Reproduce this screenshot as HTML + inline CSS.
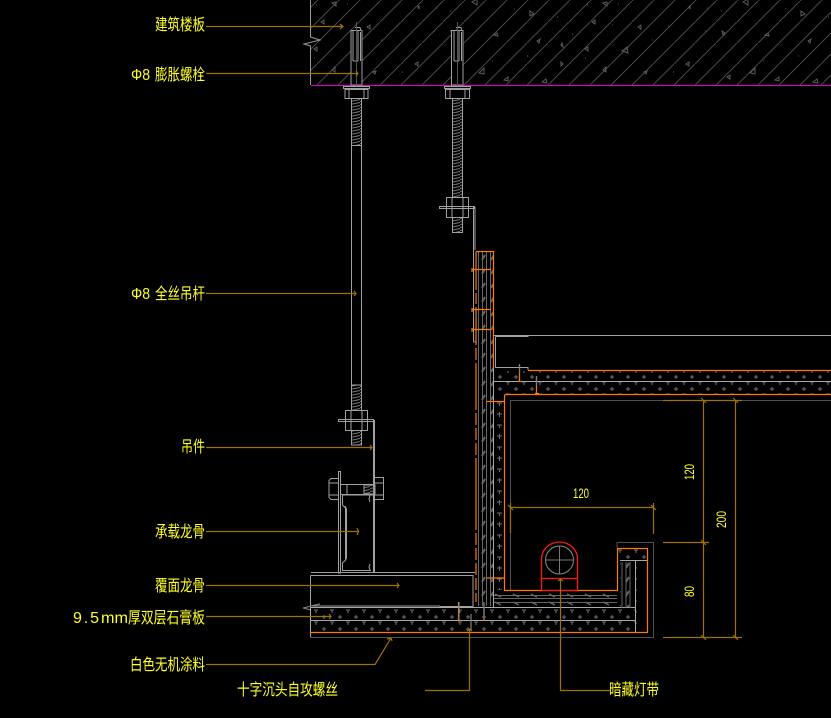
<!DOCTYPE html>
<html><head><meta charset="utf-8"><style>
html,body{margin:0;padding:0;background:#000;width:831px;height:718px;overflow:hidden}
svg{display:block}
text{font-family:"Liberation Sans","WenQuanYi Zen Hei","Noto Sans CJK SC",sans-serif;fill:#ffff2a;font-size:16px}
</style></head><body>
<svg width="831" height="718" viewBox="0 0 831 718" xmlns="http://www.w3.org/2000/svg">
<defs>
<pattern id="hatch" width="21" height="21" patternUnits="userSpaceOnUse" patternTransform="translate(2 1)">
<path d="M-1 22L22 -1" stroke="#484848" stroke-width="1" fill="none"/>
</pattern>
<pattern id="tri" width="271" height="85" patternUnits="userSpaceOnUse" patternTransform="translate(560 0)">
<path d="M43 3l4 -1v4zM35 20l-3 2 3 2zM78 27l3 -2v4zM28 47l-3 2 3 2zM62 51l5 -4 1 6zM43 70l3 -3v5zM84 72l3 -1-1 3zM126 64l3 -2v4zM129 7l1 -1v3zM183 2l5 -3v6zM165 33l-3 -2 1 4zM190 73l5 -5v6zM205 35l3 -2 1 3zM245 14l-4 -3v5zM170 75l-3 2 3 2zM215 80l4 -3v4zM248 41l3 -2-1 4zM253 82l4 -3 1 4zM2 43l-1 2 2 2zM1 62l2 2-2 2z" stroke="#5c5c5c" fill="none"/>
<path d="M27 5h1M58 4h1M12 34h1M52 25h1M92 40h1M108 26h1M145 31h1M161 11h1M147 8h1M225 9h1M203 61h1M238 56h1M268 17h1M25 58h1M113 72h1" stroke="#555"/>
</pattern>
<pattern id="b1" width="16" height="12" patternUnits="userSpaceOnUse" patternTransform="translate(311 608)">
<path d="M3 2h4M5 2v3M11 9h4M13 7v4" stroke="#707070" fill="none"/>
</pattern>
<pattern id="b2" width="15" height="22" patternUnits="userSpaceOnUse" patternTransform="translate(493 400)">
<path d="M4 3h5M6.500 3v3M4 14h5M6.500 12v5" stroke="#707070" fill="none"/>
</pattern>
<pattern id="th" width="10" height="3" patternUnits="userSpaceOnUse">
<path d="M0 2.500L10 0.500" stroke="#777" stroke-width="1"/>
</pattern>
<pattern id="vb" width="9" height="14" patternUnits="userSpaceOnUse" patternTransform="translate(478 250)">
<path d="M4 10l3 -5" stroke="#666" stroke-width="2"/>
</pattern>
<pattern id="hb" width="18" height="8" patternUnits="userSpaceOnUse" patternTransform="translate(493 590)">
<path d="M2 4l6 3" stroke="#666" stroke-width="1.500"/>
</pattern>
</defs>
<rect width="831" height="718" fill="#000"/>

<!-- slab -->
<rect x="311" y="0" width="520" height="85" fill="url(#hatch)"/>
<rect x="311" y="0" width="520" height="85" fill="url(#tri)"/>
<path d="M310.500 0V37L320 40 304 44 310.500 46V85" fill="none" stroke="#9a9a9a"/>
<rect x="311" y="85" width="520" height="1" fill="#e000c8"/>

<g fill="none" stroke="#a0a0a0">
<!-- anchor 1 -->
<rect x="351" y="30.500" width="11" height="54.500" fill="#000"/>
<path d="M353 61V30M358 61V30M355 27.500h5l1 3M353 61h5M360.500 32V61"/>
<path d="M356.500 22V96" stroke="#555"/>
<path d="M343.500 86.500h26v2h-26zM345 89.500h23v9h-23z" fill="#000"/>
<path d="M349 89.500v9M364 89.500v9"/>
<!-- anchor 2 -->
<rect x="451.500" y="30.500" width="11.500" height="54.500" fill="#000"/>
<path d="M454 61V30M459 61V30M456 27.500h5l1 3M454 61h5M461.500 32V61"/>
<path d="M457.500 22V96" stroke="#555"/>
<path d="M444.500 86.500h26v2h-26zM445.500 89.500h24v9h-24z" fill="#000"/>
<path d="M450 89.500v9M465 89.500v9"/>
<!-- rod 1 -->
<rect x="351.500" y="98.500" width="10" height="47" fill="url(#th)"/>
<path d="M351.500 145.500V385M361.500 145.500V385"/>
<rect x="351.500" y="385" width="10" height="60" fill="url(#th)"/>
<!-- rod 2 -->
<rect x="452.500" y="98.500" width="10" height="134" fill="url(#th)"/>
<!-- nut 2 -->
<path d="M446.500 197.500h22v20h-22zM452 197.500v20M463 197.500v20" fill="#000"/>
<path d="M439.500 206.500h35v2h-35zM475 207V250"/>
<path d="M473.500 207V342M473.500 342h2"/>
<!-- nut lower -->
<path d="M345.500 410.500h22v20h-22zM351 410.500v20M362 410.500v20" fill="#000"/>
<path d="M338.500 419.500h35v2h-35zM373.500 420V573M374.500 420V573"/>
<!-- bolt -->
<path d="M339 478.500h-8l-2 2v17l2 2h8M329 483h10M329 495h10"/>
<path d="M374 477.500h9.500v22H374M374 483h9.500M374 495h9.500"/>
<path d="M338.500 471.500h2V573h-2z"/>
<path d="M341 484.500h33M341 494.500h33M347 485v9"/>
<rect x="364" y="485" width="11" height="9" fill="url(#th)"/>
<path d="M342.500 495V505l3 3V560l-3 3V570.500H371M342.500 495H373M345 506l1.500 3V558l-1.500 3M370 495l-1 4 1 3M370 564l-1 3 1 3"/>
<!-- cover channel -->
<path d="M311 572.500H475M310.500 575.500H473V606.500H440M310.500 575.500V606M311 606H440M440 606v2"/>
<path d="M310.500 606L320 604 303 608 311 610" stroke="#888"/>
<!-- top box -->
<path d="M494 335.500H831M495.500 336.500V367.500H528M495.500 336.500H528M528 335v2M528 367v3" />
</g>

<!-- boards horizontal -->
<rect x="311" y="608" width="324" height="24" fill="url(#b1)"/>
<rect x="528" y="371" width="303" height="23" fill="url(#b1)"/>
<rect x="635" y="560" width="12" height="72" fill="url(#b2)"/>
<rect x="494" y="395" width="10" height="195" fill="url(#b2)"/>
<rect x="494" y="371" width="34" height="24" fill="url(#b1)"/>
<rect x="618" y="549" width="29" height="11" fill="url(#b1)"/>
<rect x="478" y="252" width="15" height="350" fill="url(#vb)"/>
<rect x="494" y="590" width="123" height="18" fill="url(#hb)"/>
<rect x="620" y="561" width="14" height="47" fill="url(#vb)"/>

<g fill="none" stroke="#a8a8a8">
<path d="M310.500 607.500H635.500M310.500 620.500H635.500M493 381.500H831M493.500 369V608M310.500 607V637M635.500 560.500V632M620 560.500H647"/>
</g>
<g fill="none" stroke="#666">
<path d="M478.500 252V606M482.500 252V606M486.500 252V606M490.500 252V606M494 595.500H617M494 598.500H617M494 602.500H617M622 562V608M626 562V608M630 562V608"/>
</g>
<g fill="none" stroke="#505050" stroke-width="1">
<path d="M310.500 637.500H617M510.500 590V400.500H831M617 637.500H653.500V542.500H617V548"/>
</g>

<!-- orange outlines -->
<g fill="none" stroke="#ff7a00" stroke-width="1.200">
<path d="M476 251.500H493.500V369M476 251.500V602"/>
<path d="M528 370.500H831M504.500 395V590.500H617.500V548.500H647.500V632.500H310.500M504.500 394.500H831"/>
<path d="M472 269.500H491M472 309.500H491M472 329.500H491M472 268v4M472 308v4M472 328v4"/>
<path d="M487 401.500H504M487 578h17"/>
<path d="M458.500 602V620.500H460M484 602V620.500H482"/>
<path d="M519.500 365V381M518 381.500h4M536.500 376V393M535 393.500h4"/>
</g>
<path d="M476 290v3M476 304v3M476 345v3M476 360v3M476 410v3M476 425v3M476 440v3M476 455v3M476 530v3M476 545v3M476 560v3M476 575v3M476 590v3" stroke="#000" stroke-width="2"/>
<path d="M459 602v18M484 602v18M471 614v16M519.500 364v10M536.500 376v10" stroke="#808080" stroke-width="1.200"/>

<!-- light -->
<g fill="none">
<circle cx="559.500" cy="560" r="14" stroke="#8a8a8a"/>
<path d="M545.500 560h28M559.500 546v28" stroke="#777"/>
<path d="M541.500 590.500V559a18 17 0 0 1 36 0V590.500ZM541.500 578.500H577.500" stroke="#ff1a10" stroke-width="1.300"/>
</g>

<!-- leaders -->
<g fill="none" stroke="#a07000" stroke-width="1.200">
<path d="M206 26.500H343M340 24l3 2.500 -3 2.500"/>
<path d="M206 73.500H358M356 71l2 2.500 -2 2.500"/>
<path d="M206 293.500H356M354 291l2 2.500 -2 2.500"/>
<path d="M206 447.500H372M370 445l2 2.500 -2 2.500"/>
<path d="M206 531.500H358M357 528l1.500 3.500 -1.500 3.500"/>
<path d="M206 585.500H399M397 583l2 2.500 -2 2.500"/>
<path d="M206 616.500H331M329 614l2 2.500 -2 2.500"/>
<path d="M206 664.500H375L391 638M387 639l4 -1 1 3"/>
<path d="M425 690.500H469.500V629M467 631l2.500 -2 2.500 2"/>
<path d="M610 690.500H560.500V579M558 581l2.500 -2 2.500 2"/>
<path d="M510.500 503V533M653.500 503V534M510 507.500H654"/>
<path d="M703.500 400V637M735.500 400V637M663 400.500H742M663 542.500H709M663 637.500H742"/>
<path d="M701 398l5 5M733 398l5 5M701 540l5 5M701 635l5 5M733 635l5 5M508 505l5 5M651 505l5 5"/>
</g>

<!-- labels -->
<text x="155" y="30" textLength="50" lengthAdjust="spacingAndGlyphs">建筑楼板</text>
<text x="131" y="80" textLength="19" lengthAdjust="spacingAndGlyphs">Φ8</text>
<text x="155" y="80" textLength="50" lengthAdjust="spacingAndGlyphs">膨胀螺栓</text>
<text x="131" y="299" textLength="19" lengthAdjust="spacingAndGlyphs">Φ8</text>
<text x="155" y="299" textLength="50" lengthAdjust="spacingAndGlyphs">全丝吊杆</text>
<text x="181" y="452" textLength="24" lengthAdjust="spacingAndGlyphs">吊件</text>
<text x="155" y="537" textLength="50" lengthAdjust="spacingAndGlyphs">承载龙骨</text>
<text x="155" y="591" textLength="50" lengthAdjust="spacingAndGlyphs">覆面龙骨</text>
<text x="73" y="623" textLength="26" lengthAdjust="spacing">9.5</text>
<text x="101" y="623" textLength="27" lengthAdjust="spacingAndGlyphs">mm</text>
<text x="128" y="623" textLength="77" lengthAdjust="spacingAndGlyphs">厚双层石膏板</text>
<text x="130" y="670" textLength="75" lengthAdjust="spacingAndGlyphs">白色无机涂料</text>
<text x="237" y="695" textLength="101" lengthAdjust="spacingAndGlyphs">十字沉头自攻螺丝</text>
<text x="609" y="695" textLength="50" lengthAdjust="spacingAndGlyphs">暗藏灯带</text>
<text x="573" y="498" textLength="16" lengthAdjust="spacingAndGlyphs" style="font-size:14px">120</text>
<text transform="translate(694 480) rotate(-90)" textLength="16" lengthAdjust="spacingAndGlyphs" style="font-size:14px">120</text>
<text transform="translate(726 528) rotate(-90)" textLength="17" lengthAdjust="spacingAndGlyphs" style="font-size:14px">200</text>
<text transform="translate(694 597) rotate(-90)" textLength="11" lengthAdjust="spacingAndGlyphs" style="font-size:14px">80</text>
</svg>
</body></html>
